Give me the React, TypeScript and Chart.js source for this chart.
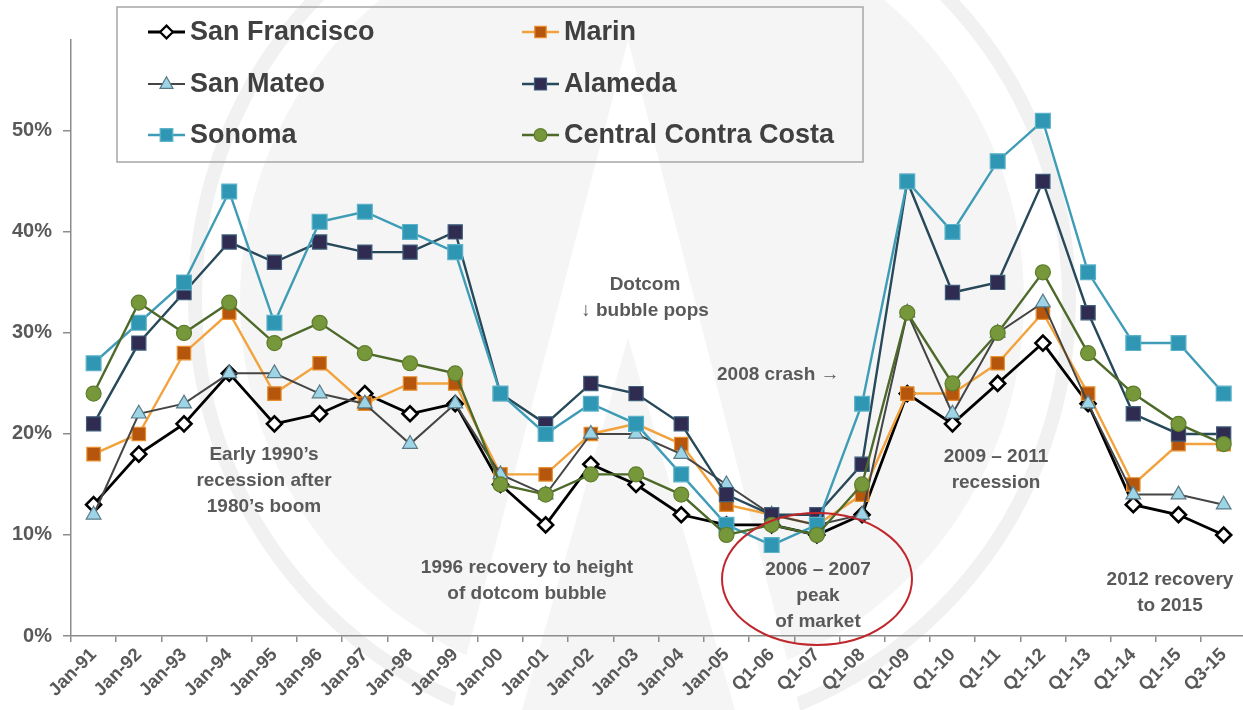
import React, { useEffect, useRef } from 'react';
import { Chart, registerables } from 'chart.js';

Chart.register(...registerables);

const categories = [
  'Jan-91', 'Jan-92', 'Jan-93', 'Jan-94', 'Jan-95', 'Jan-96', 'Jan-97', 'Jan-98', 'Jan-99',
  'Jan-00', 'Jan-01', 'Jan-02', 'Jan-03', 'Jan-04', 'Jan-05',
  'Q1-06', 'Q1-07', 'Q1-08', 'Q1-09', 'Q1-10', 'Q1-11', 'Q1-12', 'Q1-13', 'Q1-14', 'Q1-15', 'Q3-15',
];

const sanFrancisco = [13, 18, 21, 26, 21, 22, 24, 22, 23, 15, 11, 17, 15, 12, 11, 11, 10, 12, 24, 21, 25, 29, 23, 13, 12, 10];
const marin = [18, 20, 28, 32, 24, 27, 23, 25, 25, 16, 16, 20, 21, 19, 13, 12, 11, 14, 24, 24, 27, 32, 24, 15, 19, 19];
const sanMateo = [12, 22, 23, 26, 26, 24, 23, 19, 23, 16, 14, 20, 20, 18, 15, 12, 11, 12, 32, 22, 30, 33, 23, 14, 14, 13];
const alameda = [21, 29, 34, 39, 37, 39, 38, 38, 40, 24, 21, 25, 24, 21, 14, 12, 12, 17, 45, 34, 35, 45, 32, 22, 20, 20];
const sonoma = [27, 31, 35, 44, 31, 41, 42, 40, 38, 24, 20, 23, 21, 16, 11, 9, 11, 23, 45, 40, 47, 51, 36, 29, 29, 24];
const centralContraCosta = [24, 33, 30, 33, 29, 31, 28, 27, 26, 15, 14, 16, 16, 14, 10, 11, 10, 15, 32, 25, 30, 36, 28, 24, 21, 19];

const yTickValues = [0, 10, 20, 30, 40, 50];
const yMax = 59;

const FONT = '"Liberation Sans", Arial, Helvetica, sans-serif';
const TEXT_GRAY = '#595959';
const AXIS_GRAY = '#8c8c8c';

type SeriesStyle = {
  label: string;
  data: number[];
  line: string;
  lineWidth: number;
  fill: string;
  stroke: string;
  pointStyle: 'rectRot' | 'rect' | 'triangle' | 'circle';
  radius: number;
  order: number;
};

const series: SeriesStyle[] = [
  { label: 'San Francisco', data: sanFrancisco, line: '#000000', lineWidth: 2.8, fill: '#ffffff', stroke: '#000000', pointStyle: 'rectRot', radius: 7.5, order: 5 },
  { label: 'Marin', data: marin, line: '#F2A33E', lineWidth: 2.4, fill: '#B5560C', stroke: '#E8902F', pointStyle: 'rect', radius: 9.5, order: 4 },
  { label: 'San Mateo', data: sanMateo, line: '#454545', lineWidth: 2, fill: '#9DD4E6', stroke: '#5a7a86', pointStyle: 'triangle', radius: 8.5, order: 3 },
  { label: 'Alameda', data: alameda, line: '#27495A', lineWidth: 2.4, fill: '#302B50', stroke: '#3f5f7a', pointStyle: 'rect', radius: 10, order: 2 },
  { label: 'Sonoma', data: sonoma, line: '#3E9CB6', lineWidth: 2.4, fill: '#2F97B3', stroke: '#5cb3c9', pointStyle: 'rect', radius: 10.5, order: 1 },
  { label: 'Central Contra Costa', data: centralContraCosta, line: '#4E6A2B', lineWidth: 2.4, fill: '#77983A', stroke: '#5e7d2c', pointStyle: 'circle', radius: 7.5, order: 0 },
];

function drawMarker(ctx: CanvasRenderingContext2D, s: SeriesStyle, x: number, y: number, scale: number) {
  const r = s.radius * scale;
  ctx.save();
  ctx.fillStyle = s.fill;
  ctx.strokeStyle = s.stroke;
  ctx.lineWidth = s.pointStyle === 'rectRot' ? 2.2 : 1.2;
  ctx.beginPath();
  if (s.pointStyle === 'rect') {
    const h = r * Math.SQRT1_2;
    ctx.rect(x - h, y - h, 2 * h, 2 * h);
  } else if (s.pointStyle === 'rectRot') {
    ctx.moveTo(x, y - r);
    ctx.lineTo(x + r, y);
    ctx.lineTo(x, y + r);
    ctx.lineTo(x - r, y);
    ctx.closePath();
  } else if (s.pointStyle === 'triangle') {
    ctx.moveTo(x, y - r);
    ctx.lineTo(x + r * 0.9, y + r * 0.6);
    ctx.lineTo(x - r * 0.9, y + r * 0.6);
    ctx.closePath();
  } else {
    ctx.arc(x, y, r, 0, Math.PI * 2);
  }
  ctx.fill();
  ctx.stroke();
  ctx.restore();
}

const watermarkPlugin = {
  id: 'watermark',
  beforeDraw(chart: any) {
    const ctx: CanvasRenderingContext2D = chart.ctx;
    ctx.save();
    ctx.fillStyle = '#ffffff';
    ctx.fillRect(0, 0, chart.width, chart.height);
    const cx = 632;
    const cy = 300;
    ctx.strokeStyle = '#f1f1f1';
    ctx.lineWidth = 14;
    ctx.beginPath();
    ctx.arc(cx, cy, 437, 0, Math.PI * 2);
    ctx.stroke();
    ctx.fillStyle = '#f5f5f5';
    ctx.beginPath();
    ctx.arc(cx, cy, 392, 0, Math.PI * 2);
    ctx.fill();
    // white "A" wedge
    ctx.fillStyle = '#ffffff';
    ctx.beginPath();
    ctx.moveTo(628, 40);
    ctx.lineTo(800, 710);
    ctx.lineTo(452, 710);
    ctx.closePath();
    ctx.fill();
    ctx.fillStyle = '#f5f5f5';
    ctx.beginPath();
    ctx.moveTo(628, 338);
    ctx.lineTo(735, 710);
    ctx.lineTo(522, 710);
    ctx.closePath();
    ctx.fill();
    ctx.restore();
  },
};

const annotationPlugin = {
  id: 'annotations',
  afterDatasetsDraw(chart: any) {
    const ctx: CanvasRenderingContext2D = chart.ctx;
    ctx.save();
    ctx.fillStyle = TEXT_GRAY;
    ctx.font = `bold 19px ${FONT}`;
    ctx.textBaseline = 'middle';
    ctx.textAlign = 'center';
    const blocks: [number, number[], string[]][] = [
      [264, [455, 481, 507], ['Early 1990\u2019s', 'recession after', '1980\u2019s boom']],
      [645, [285, 311], ['Dotcom', '\u2193 bubble pops']],
      [527, [568, 594], ['1996 recovery to height', 'of dotcom bubble']],
      [818, [570, 596, 622], ['2006 \u2013 2007', 'peak', 'of market']],
      [996, [457, 483], ['2009 \u2013 2011', 'recession']],
      [1170, [580, 606], ['2012 recovery', 'to 2015']],
    ];
    blocks.forEach(([x, ys, lines]) => {
      lines.forEach((t, i) => ctx.fillText(t, x, ys[i]));
    });
    ctx.textAlign = 'left';
    ctx.fillText('2008 crash \u2192', 717, 375);
    // red ellipse
    ctx.strokeStyle = '#C0272D';
    ctx.lineWidth = 2;
    ctx.beginPath();
    ctx.ellipse(817, 579, 95, 66, 0, 0, Math.PI * 2);
    ctx.stroke();
    ctx.restore();
  },
  afterDraw(chart: any) {
    const ctx: CanvasRenderingContext2D = chart.ctx;
    ctx.save();
    ctx.strokeStyle = '#a6a6a6';
    ctx.lineWidth = 1.5;
    ctx.strokeRect(117, 7, 746, 155);
    const cols = [148, 522];
    const rows = [32, 84, 135];
    series.forEach((s, i) => {
      const x0 = cols[i % 2];
      const y = rows[Math.floor(i / 2)];
      ctx.strokeStyle = s.line;
      ctx.lineWidth = s.lineWidth;
      ctx.beginPath();
      ctx.moveTo(x0, y);
      ctx.lineTo(x0 + 37, y);
      ctx.stroke();
      drawMarker(ctx, s, x0 + 18.5, y, 0.85);
      ctx.fillStyle = '#404040';
      ctx.font = `bold 27px ${FONT}`;
      ctx.textBaseline = 'middle';
      ctx.textAlign = 'left';
      ctx.fillText(s.label, x0 + 42, y + 1);
    });
    ctx.restore();
  },
};

export default function App() {
  const ref = useRef<HTMLCanvasElement>(null);
  useEffect(() => {
    if (!ref.current) return;
    const chart = new Chart(ref.current, {
      type: 'line',
      data: {
        labels: categories,
        datasets: series.map((s) => ({
          label: s.label,
          data: s.data,
          borderColor: s.line,
          borderWidth: s.lineWidth,
          backgroundColor: s.fill,
          pointStyle: s.pointStyle,
          pointRadius: s.radius,
          pointBackgroundColor: s.fill,
          pointBorderColor: s.stroke,
          pointBorderWidth: s.pointStyle === 'rectRot' ? 2.6 : 1.2,
          tension: 0,
          fill: false,
          order: s.order,
        })),
      },
      options: {
        animation: false,
        responsive: false,
        devicePixelRatio: 1,
        layout: { padding: { left: 0, top: 40, right: 4, bottom: 0 } },
        plugins: {
          legend: { display: false },
          tooltip: { enabled: false },
        },
        scales: {
          x: {
            type: 'category',
            offset: true,
            grid: {
              display: true,
              offset: true,
              drawOnChartArea: false,
              tickLength: 6,
              color: AXIS_GRAY,
              lineWidth: 1.5,
            },
            border: { color: AXIS_GRAY, width: 1.5 },
            ticks: {
              autoSkip: false,
              maxRotation: 45,
              minRotation: 45,
              padding: 2,
              color: TEXT_GRAY,
              font: { family: FONT, size: 18.5, weight: 'bold' },
            },
            afterFit: (scale: any) => {
              scale.height = 74;
            },
          },
          y: {
            min: 0,
            max: yMax,
            grid: {
              display: true,
              drawOnChartArea: false,
              tickLength: 8,
              color: AXIS_GRAY,
              lineWidth: 1.5,
            },
            border: { color: AXIS_GRAY, width: 1.5 },
            ticks: {
              stepSize: 10,
              padding: 11,
              color: TEXT_GRAY,
              font: { family: FONT, size: 20, weight: 'bold' },
              callback: (v: any) => `${v}%`,
            },
            afterBuildTicks: (scale: any) => {
              scale.ticks = yTickValues.map((v) => ({ value: v }));
            },
            afterFit: (scale: any) => {
              scale.width = 71;
            },
          },
        },
      } as any,
      plugins: [watermarkPlugin, annotationPlugin],
    });
    return () => chart.destroy();
  }, []);

  return (
    <div
      style={{
        position: 'absolute',
        left: 0,
        top: 0,
        width: 1243,
        height: 710,
        overflow: 'hidden',
        background: '#ffffff',
      }}
    >
      <canvas ref={ref} width={1258} height={710} style={{ display: 'block', width: 1258, height: 710 }} />
    </div>
  );
}
